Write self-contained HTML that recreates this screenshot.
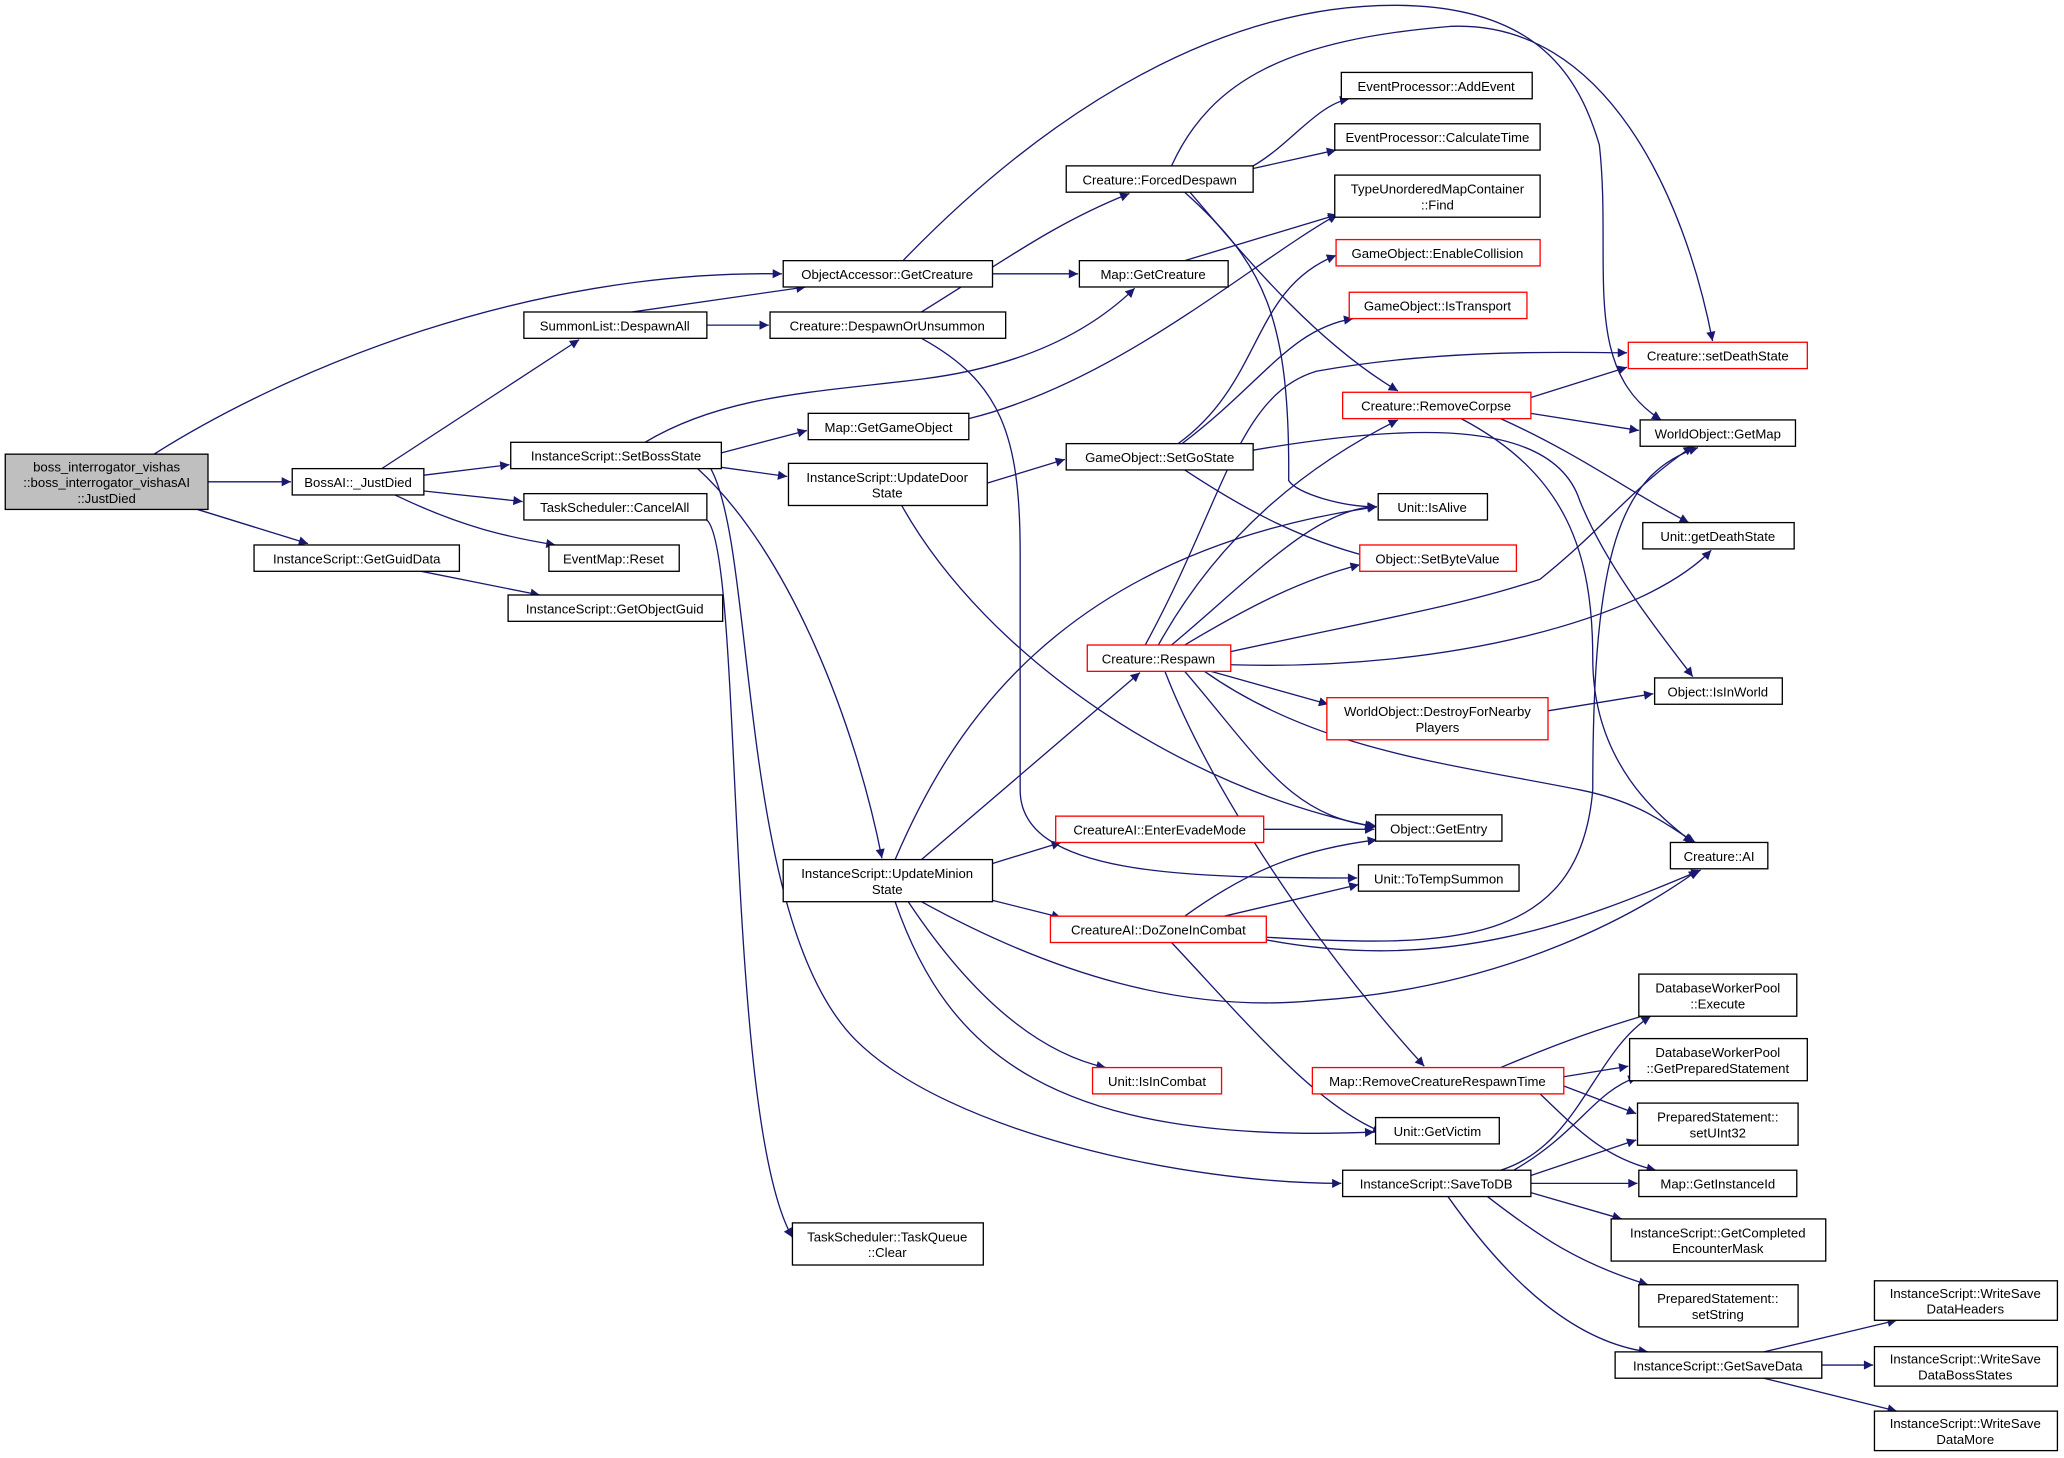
<!DOCTYPE html>
<html><head><meta charset="utf-8"><style>
html,body{margin:0;padding:0;background:#fff;}
svg{display:block;}
text{font-family:"Liberation Sans","DejaVu Sans",sans-serif;font-size:10px;fill:#000;text-anchor:middle;}
.b{fill:#fff;stroke:#000;stroke-width:1;}
.r{fill:#fff;stroke:#ff0000;stroke-width:1;}
.e{fill:none;stroke:#191970;stroke-width:1;marker-end:url(#a);}
</style></head><body>
<svg width="2064" height="1458" viewBox="0 0 1568 1107.6" xmlns="http://www.w3.org/2000/svg">
<defs><marker id="a" viewBox="0 0 10 10" refX="10" refY="5" markerWidth="10" markerHeight="7" markerUnits="userSpaceOnUse" orient="auto"><path d="M0,0 L10,5 L0,10 z" fill="#191970"/></marker></defs>
<g>
<path class="e" d="M117,345 C220,280 400,205 594,208"/>
<path class="e" d="M158,366 L221,366"/>
<path class="e" d="M150,387 L234,413"/>
<path class="e" d="M290,356 L440,258"/>
<path class="e" d="M322,361 L387,353"/>
<path class="e" d="M322,373 L397,381"/>
<path class="e" d="M300,376 C350,400 385,408 422,414"/>
<path class="e" d="M320,434 L410,452"/>
<path class="e" d="M480,237 L612,218"/>
<path class="e" d="M537,247 L584,247"/>
<path class="e" d="M700,237 C760,200 800,170 858,147"/>
<path class="e" d="M700,257 C760,290 775,330 775,420 L775,600 C775,665 900,667 1031,667"/>
<path class="e" d="M754,208 L819,208"/>
<path class="e" d="M686,198 C800,80 930,4 1059,4 C1170,4 1200,60 1215,110 C1225,200 1200,280 1262,319"/>
<path class="e" d="M890,126 C920,60 980,30 1102,20 C1220,15 1280,150 1301,259"/>
<path class="e" d="M952,126 C980,110 1000,80 1025,75"/>
<path class="e" d="M952,128 L1015,114"/>
<path class="e" d="M904,146 C950,200 1000,260 1062,297"/>
<path class="e" d="M900,146 C960,200 980,240 979,365 C985,375 1020,385 1046,385"/>
<path class="e" d="M900,198 L1016,163"/>
<path class="e" d="M490,336 C550,300 620,298 700,288 C780,278 830,250 862,219"/>
<path class="e" d="M548,344 L613,327"/>
<path class="e" d="M548,355 L598,362"/>
<path class="e" d="M530,356 C600,420 650,550 670,652"/>
<path class="e" d="M540,356 C575,420 560,700 650,790 C720,860 900,899 1019,899"/>
<path class="e" d="M537,395 C565,420 550,850 602,940"/>
<path class="e" d="M736,318 C850,290 950,200 1016,163"/>
<path class="e" d="M750,367 L809,349"/>
<path class="e" d="M685,384 C750,500 900,600 1044,628"/>
<path class="e" d="M895,337 C960,290 950,220 1015,194"/>
<path class="e" d="M898,337 C960,290 980,250 1028,242"/>
<path class="e" d="M900,357 C950,390 990,410 1040,423"/>
<path class="e" d="M952,342 C1080,320 1180,320 1200,380 C1220,430 1260,480 1286,514"/>
<path class="e" d="M1110,318 C1190,360 1210,420 1210,500 C1210,580 1260,620 1286,640"/>
<path class="e" d="M1163,302 L1236,279"/>
<path class="e" d="M1163,314 L1245,327"/>
<path class="e" d="M1140,318 C1200,345 1240,375 1283,397"/>
<path class="e" d="M880,490 C930,400 1000,350 1062,319"/>
<path class="e" d="M870,490 C930,380 940,300 1000,282 C1100,264 1200,268 1236,268"/>
<path class="e" d="M890,490 C950,440 1000,385 1046,385"/>
<path class="e" d="M900,490 C950,460 990,440 1033,429"/>
<path class="e" d="M935,495 C1050,470 1110,460 1170,440 C1220,400 1240,370 1286,339"/>
<path class="e" d="M935,505 C1100,510 1250,470 1300,418"/>
<path class="e" d="M920,510 L1009,535"/>
<path class="e" d="M900,510 C960,580 980,620 1046,628"/>
<path class="e" d="M915,510 C1000,570 1100,580 1200,600 C1250,610 1270,630 1288,640"/>
<path class="e" d="M885,510 C920,600 1000,720 1082,810"/>
<path class="e" d="M1176,540 L1256,527"/>
<path class="e" d="M680,653 C720,560 800,420 1046,385"/>
<path class="e" d="M700,653 L866,511"/>
<path class="e" d="M754,656 L806,640"/>
<path class="e" d="M754,684 L806,697"/>
<path class="e" d="M700,685 C800,740 900,770 1000,760 C1150,750 1250,690 1290,661"/>
<path class="e" d="M690,685 C740,760 790,800 840,811"/>
<path class="e" d="M680,685 C720,800 800,870 1044,860"/>
<path class="e" d="M960,630 L1044,630"/>
<path class="e" d="M900,696 C950,660 990,645 1046,638"/>
<path class="e" d="M930,696 L1032,672"/>
<path class="e" d="M962,712 C1100,720 1200,720 1210,600 C1210,420 1230,360 1290,340"/>
<path class="e" d="M962,714 C1100,740 1200,700 1292,661"/>
<path class="e" d="M890,716 C950,780 1000,840 1050,860"/>
<path class="e" d="M1140,811 C1190,790 1220,780 1254,770"/>
<path class="e" d="M1188,818 L1237,810"/>
<path class="e" d="M1188,825 L1243,846"/>
<path class="e" d="M1170,831 C1200,860 1220,880 1258,889"/>
<path class="e" d="M1140,889 C1200,870 1210,800 1254,772"/>
<path class="e" d="M1150,889 C1200,860 1210,830 1244,818"/>
<path class="e" d="M1163,893 L1243,866"/>
<path class="e" d="M1163,899 L1244,899"/>
<path class="e" d="M1163,906 L1232,926"/>
<path class="e" d="M1130,909 C1170,940 1200,960 1252,976"/>
<path class="e" d="M1100,909 C1150,980 1200,1020 1252,1027"/>
<path class="e" d="M1340,1027 L1441,1003"/>
<path class="e" d="M1384,1037 L1423,1037"/>
<path class="e" d="M1340,1047 L1441,1072"/>
</g>
<g>
<rect x="4" y="345" width="154" height="42" fill="#bfbfbf" stroke="#000"/>
<text x="81" y="358">boss_interrogator_vishas</text><text x="81" y="370">::boss_interrogator_vishasAI</text><text x="81" y="382">::JustDied</text>
<rect class="b" x="222" y="356" width="100" height="20"/><text x="272" y="370">BossAI::_JustDied</text>
<rect class="b" x="193" y="414" width="156" height="20"/><text x="271" y="428">InstanceScript::GetGuidData</text>
<rect class="b" x="386" y="452" width="163" height="20"/><text x="467" y="466">InstanceScript::GetObjectGuid</text>
<rect class="b" x="398" y="237" width="139" height="20"/><text x="467" y="251">SummonList::DespawnAll</text>
<rect class="b" x="595" y="198" width="159" height="20"/><text x="674" y="212">ObjectAccessor::GetCreature</text>
<rect class="b" x="388" y="336" width="160" height="20"/><text x="468" y="350">InstanceScript::SetBossState</text>
<rect class="b" x="398" y="375" width="139" height="20"/><text x="467" y="389">TaskScheduler::CancelAll</text>
<rect class="b" x="417" y="414" width="99" height="20"/><text x="466" y="428">EventMap::Reset</text>
<rect class="b" x="585" y="237" width="179" height="20"/><text x="674" y="251">Creature::DespawnOrUnsummon</text>
<rect class="b" x="810" y="126" width="142" height="20"/><text x="881" y="140">Creature::ForcedDespawn</text>
<rect class="b" x="820" y="198" width="113" height="20"/><text x="876" y="212">Map::GetCreature</text>
<rect class="b" x="614" y="314" width="122" height="20"/><text x="675" y="328">Map::GetGameObject</text>
<rect class="b" x="599" y="352" width="151" height="32"/><text x="674" y="366">InstanceScript::UpdateDoor</text><text x="674" y="378">State</text>
<rect class="b" x="810" y="337" width="142" height="20"/><text x="881" y="351">GameObject::SetGoState</text>
<rect class="b" x="595" y="653" width="159" height="32"/><text x="674" y="667">InstanceScript::UpdateMinion</text><text x="674" y="679">State</text>
<rect class="b" x="602" y="929" width="145" height="32"/><text x="674" y="943">TaskScheduler::TaskQueue</text><text x="674" y="955">::Clear</text>
<rect class="b" x="1019" y="55" width="145" height="20"/><text x="1091" y="69">EventProcessor::AddEvent</text>
<rect class="b" x="1014" y="94" width="156" height="20"/><text x="1092" y="108">EventProcessor::CalculateTime</text>
<rect class="b" x="1014" y="133" width="156" height="32"/><text x="1092" y="147">TypeUnorderedMapContainer</text><text x="1092" y="159">::Find</text>
<rect class="r" x="1015" y="182" width="155" height="20"/><text x="1092" y="196">GameObject::EnableCollision</text>
<rect class="r" x="1025" y="222" width="135" height="20"/><text x="1092" y="236">GameObject::IsTransport</text>
<rect class="r" x="1020" y="298" width="143" height="20"/><text x="1091" y="312">Creature::RemoveCorpse</text>
<rect class="b" x="1047" y="375" width="83" height="20"/><text x="1088" y="389">Unit::IsAlive</text>
<rect class="r" x="1033" y="414" width="119" height="20"/><text x="1092" y="428">Object::SetByteValue</text>
<rect class="r" x="826" y="490" width="109" height="20"/><text x="880" y="504">Creature::Respawn</text>
<rect class="r" x="1008" y="530" width="168" height="32"/><text x="1092" y="544">WorldObject::DestroyForNearby</text><text x="1092" y="556">Players</text>
<rect class="r" x="802" y="620" width="158" height="20"/><text x="881" y="634">CreatureAI::EnterEvadeMode</text>
<rect class="b" x="1045" y="619" width="96" height="20"/><text x="1093" y="633">Object::GetEntry</text>
<rect class="b" x="1032" y="657" width="122" height="20"/><text x="1093" y="671">Unit::ToTempSummon</text>
<rect class="r" x="798" y="696" width="164" height="20"/><text x="880" y="710">CreatureAI::DoZoneInCombat</text>
<rect class="r" x="830" y="811" width="98" height="20"/><text x="879" y="825">Unit::IsInCombat</text>
<rect class="r" x="997" y="811" width="191" height="20"/><text x="1092" y="825">Map::RemoveCreatureRespawnTime</text>
<rect class="b" x="1045" y="849" width="94" height="20"/><text x="1092" y="863">Unit::GetVictim</text>
<rect class="b" x="1020" y="889" width="143" height="20"/><text x="1091" y="903">InstanceScript::SaveToDB</text>
<rect class="r" x="1237" y="260" width="136" height="20"/><text x="1305" y="274">Creature::setDeathState</text>
<rect class="b" x="1246" y="319" width="118" height="20"/><text x="1305" y="333">WorldObject::GetMap</text>
<rect class="b" x="1248" y="397" width="115" height="20"/><text x="1305" y="411">Unit::getDeathState</text>
<rect class="b" x="1257" y="515" width="97" height="20"/><text x="1305" y="529">Object::IsInWorld</text>
<rect class="b" x="1269" y="640" width="74" height="20"/><text x="1306" y="654">Creature::AI</text>
<rect class="b" x="1245" y="740" width="120" height="32"/><text x="1305" y="754">DatabaseWorkerPool</text><text x="1305" y="766">::Execute</text>
<rect class="b" x="1238" y="789" width="135" height="32"/><text x="1305" y="803">DatabaseWorkerPool</text><text x="1305" y="815">::GetPreparedStatement</text>
<rect class="b" x="1244" y="838" width="122" height="32"/><text x="1305" y="852">PreparedStatement::</text><text x="1305" y="864">setUInt32</text>
<rect class="b" x="1245" y="889" width="120" height="20"/><text x="1305" y="903">Map::GetInstanceId</text>
<rect class="b" x="1224" y="926" width="163" height="32"/><text x="1305" y="940">InstanceScript::GetCompleted</text><text x="1305" y="952">EncounterMask</text>
<rect class="b" x="1245" y="976" width="121" height="32"/><text x="1305" y="990">PreparedStatement::</text><text x="1305" y="1002">setString</text>
<rect class="b" x="1227" y="1027" width="157" height="20"/><text x="1305" y="1041">InstanceScript::GetSaveData</text>
<rect class="b" x="1424" y="973" width="139" height="30"/><text x="1493" y="986">InstanceScript::WriteSave</text><text x="1493" y="998">DataHeaders</text>
<rect class="b" x="1424" y="1023" width="139" height="30"/><text x="1493" y="1036">InstanceScript::WriteSave</text><text x="1493" y="1048">DataBossStates</text>
<rect class="b" x="1424" y="1072" width="139" height="30"/><text x="1493" y="1085">InstanceScript::WriteSave</text><text x="1493" y="1097">DataMore</text>
</g>
</svg>
</body></html>
